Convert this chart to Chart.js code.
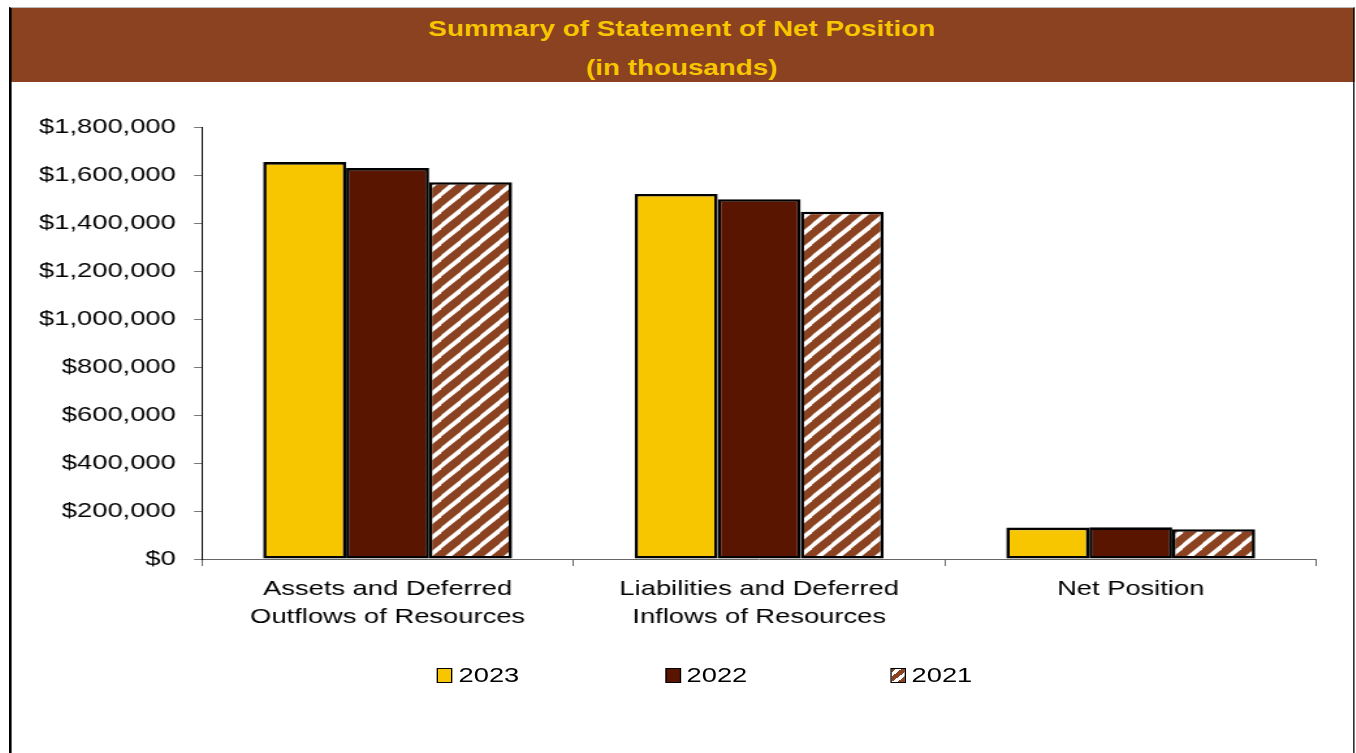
<!DOCTYPE html>
<html>
<head>
<meta charset="utf-8">
<script src="https://cdn.jsdelivr.net/npm/chart.js@4.4.1/dist/chart.umd.min.js"></script>
<style>
  html, body { margin: 0; background: #fff; overflow: hidden; }
  /* the source picture is stretched ~1.3x horizontally, so the whole panel is too */
  #wrap { position: absolute; left: 9px; top: 7px; width: 1035px; height: 760px;
          transform: scaleX(1.3); transform-origin: 0 0;
          font-family: 'Liberation Sans', Arial, sans-serif; }
  #head { position: absolute; left: 0; right: 0; top: 1px; height: 74px; background: #8B4220;
          color: #F7C600; font-weight: bold; font-size: 21.4px; text-align: center; }
  #head div { position: absolute; left: 0; right: 0; line-height: 24px; }
  #frame { position: absolute; left: 0; top: 0; right: 0; bottom: 0; box-sizing: border-box;
           border-left: 2.4px solid #000; border-right: 1.6px solid #000; border-top: 1px solid #bbb; }
  #plot { position: absolute; left: 2.3px; top: 75px; width: 1030.8px; height: 671px; }
  .li { position: absolute; top: 581px; height: 24px; display: flex; align-items: center;
        font-size: 21px; color: #000; }
  .li span { display: inline-block; width: 10px; height: 13px; border: 1px solid #000;
             margin-right: 4.6px; }
</style>
</head>
<body>
<div id="wrap">
  <div id="head">
    <div style="top:9px">Summary of Statement of Net Position</div>
    <div style="top:48px">(in thousands)</div>
  </div>
  <div id="plot"><canvas id="chartNetPos"></canvas></div>
  <div id="frame"></div>
</div>
<script>
// Summary of Statement of Net Position (in thousands)
const categories = [
  ['Assets and Deferred', 'Outflows of Resources'],
  ['Liabilities and Deferred', 'Inflows of Resources'],
  'Net Position'
];
const years = ['2023', '2022', '2021'];
const values2023 = [1654000, 1521000, 131000];
const values2022 = [1629000, 1499000, 132000];
const values2021 = [1570000, 1447000, 124000];
const yTicksMax = 1800000;
const yTicksStep = 200000;

const GOLD = '#F7C600';
const MAROON = '#5A1500';
const BROWN = '#8B4220';

// diagonal white stripes on brown for the 2021 series
function hatchPattern() {
  const w = 15.4, h = 16;
  const c = document.createElement('canvas');
  c.width = w; c.height = h;
  const g = c.getContext('2d');
  g.fillStyle = BROWN;
  g.fillRect(0, 0, w, h);
  g.strokeStyle = '#fff';
  g.lineWidth = 3.8;
  for (let k = 0; k < 3; k++) {
    g.beginPath();
    g.moveTo(w * (k + 1), -h);
    g.lineTo(w * (k - 2), 2 * h);
    g.stroke();
  }
  return g.createPattern(c, 'repeat');
}

Chart.defaults.font.family = "'Liberation Sans', Arial, sans-serif";
Chart.defaults.font.size = 21;
Chart.defaults.color = '#000';

const barStyle = { borderColor: '#000', borderWidth: 2.6, borderSkipped: false,
                   categoryPercentage: 0.67, barPercentage: 1.0 };

new Chart(document.getElementById('chartNetPos').getContext('2d'), {
  type: 'bar',
  data: {
    labels: categories,
    datasets: [
      Object.assign({ label: years[0], data: values2023, backgroundColor: GOLD }, barStyle),
      Object.assign({ label: years[1], data: values2022, backgroundColor: MAROON }, barStyle),
      Object.assign({ label: years[2], data: values2021, backgroundColor: hatchPattern() }, barStyle)
    ]
  },
  options: {
    responsive: true,
    maintainAspectRatio: false,
    animation: false,
    layout: { padding: { left: 0, right: 28, top: 45, bottom: 94 } },
    plugins: { legend: { display: false }, tooltip: { enabled: false } },
    scales: {
      x: {
        grid: { drawOnChartArea: false, drawTicks: true, tickLength: 7, color: '#666', offset: true },
        border: { color: '#666', width: 1 },
        ticks: { padding: 9, font: { size: 21, lineHeight: 1.333 }, maxRotation: 0 },
        afterFit(scale) { scale.height = 100; }
      },
      y: {
        min: 0,
        max: yTicksMax,
        grid: { drawOnChartArea: false, drawTicks: true, tickLength: 6, color: '#777' },
        border: { color: '#000', width: 1 },
        ticks: {
          stepSize: yTicksStep,
          padding: 14,
          font: { size: 21 },
          callback: function(v) { return '$' + v.toLocaleString('en-US'); }
        },
        afterFit(scale) { scale.width = 146.2; }
      }
    }
  }
});

// legend (HTML, placed under the axis labels)
const legendLeft = [326.9, 502.3, 675.4];
const legendFill = [GOLD, MAROON,
  'repeating-linear-gradient(-45deg, ' + BROWN + ' 0 4px, #fff 4px 7px)'];
years.forEach(function(y, i) {
  const d = document.createElement('div');
  d.className = 'li';
  d.style.left = legendLeft[i] + 'px';
  d.innerHTML = '<span style="background:' + legendFill[i] + '"></span>' + y;
  document.getElementById('plot').appendChild(d);
});
</script>
</body>
</html>
